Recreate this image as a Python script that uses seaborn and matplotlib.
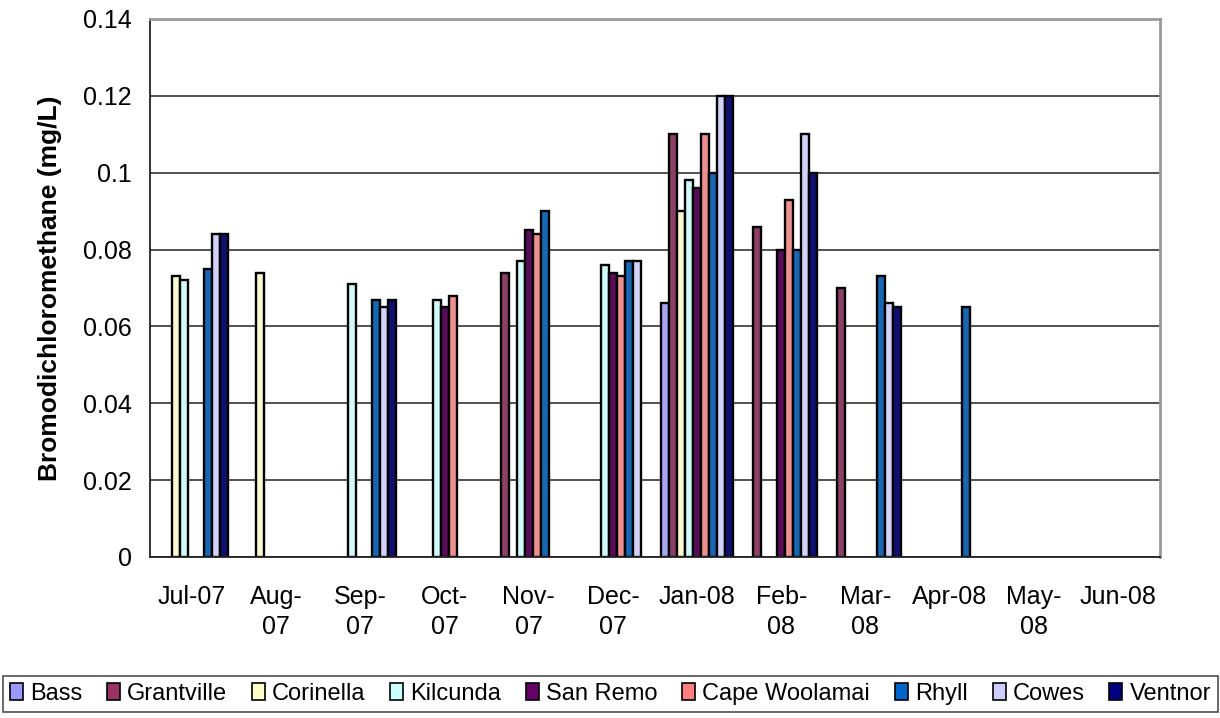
"""Bromodichloromethane levels by town, Jul-07 to Jun-08, as grouped bars."""

import matplotlib
matplotlib.use("Agg")
import matplotlib.pyplot as plt
from matplotlib import font_manager
from matplotlib.patches import Patch
from matplotlib.ticker import FixedLocator, FuncFormatter, MultipleLocator
import numpy as np
import pandas as pd
import seaborn as sns

nan = np.nan

months = ["Jul-07", "Aug-07", "Sep-07", "Oct-07", "Nov-07", "Dec-07",
          "Jan-08", "Feb-08", "Mar-08", "Apr-08", "May-08", "Jun-08"]
month_labels = ["Jul-07", "Aug-\n07", "Sep-\n07", "Oct-\n07", "Nov-\n07", "Dec-\n07",
                "Jan-08", "Feb-\n08", "Mar-\n08", "Apr-08", "May-\n08", "Jun-08"]
towns = ["Bass", "Grantville", "Corinella", "Kilcunda", "San Remo",
         "Cape Woolamai", "Rhyll", "Cowes", "Ventnor"]

bass = [nan, nan, nan, nan, nan, nan, 0.066, nan, nan, nan, nan, nan]
grantville = [nan, nan, nan, nan, 0.074, nan, 0.110, 0.086, 0.070, nan, nan, nan]
corinella = [0.073, 0.074, nan, nan, nan, nan, 0.090, nan, nan, nan, nan, nan]
kilcunda = [0.072, nan, 0.071, 0.067, 0.077, 0.076, 0.098, nan, nan, nan, nan, nan]
san_remo = [nan, nan, nan, 0.065, 0.085, 0.074, 0.096, 0.080, nan, nan, nan, nan]
cape_woolamai = [nan, nan, nan, 0.068, 0.084, 0.073, 0.110, 0.093, nan, nan, nan, nan]
rhyll = [0.075, nan, 0.067, nan, 0.090, 0.077, 0.100, 0.080, 0.073, 0.065, nan, nan]
cowes = [0.084, nan, 0.065, nan, nan, 0.077, 0.120, 0.110, 0.066, nan, nan, nan]
ventnor = [0.084, nan, 0.067, nan, nan, nan, 0.120, 0.100, 0.065, nan, nan, nan]

colors = ["#9999FF", "#993366", "#FFFFCC", "#CCFFFF", "#660066",
          "#FF8080", "#0066CC", "#CCCCFF", "#000080"]

series = [bass, grantville, corinella, kilcunda, san_remo,
          cape_woolamai, rhyll, cowes, ventnor]
df = pd.DataFrame({
    "month": np.tile(months, len(towns)),
    "town": np.repeat(towns, len(months)),
    "value": np.concatenate(series),
})

sns.set_theme(style="white")
plt.rcParams["font.family"] = ["Liberation Sans", "DejaVu Sans"]
plt.rcParams["text.color"] = "black"
plt.rcParams["xtick.color"] = "black"
plt.rcParams["ytick.color"] = "black"
plt.rcParams["axes.labelcolor"] = "black"
installed = {f.name for f in font_manager.fontManager.ttflist}
if "Liberation Sans Narrow" in installed:
    legend_prop = {"family": "Liberation Sans Narrow", "size": 19}
else:
    legend_prop = {"family": "Liberation Sans", "size": 17}

fig = plt.figure(figsize=(12.2, 7.18), dpi=100)
ax = fig.add_axes([150 / 1220, 1 - 557 / 718, 1010 / 1220, 538 / 718])

sns.barplot(data=df, x="month", y="value", hue="town", order=months,
            hue_order=towns, palette=colors, width=0.857, errorbar=None,
            edgecolor="black", linewidth=1.7, legend=False, ax=ax)

ax.set_ylim(0, 0.14)
ax.set_xlim(-0.5, len(months) - 0.5)
ax.yaxis.set_major_locator(MultipleLocator(0.02))
ax.yaxis.set_major_formatter(FuncFormatter(lambda v, _: f"{round(v, 2):g}"))
ax.grid(axis="y", color="#222222", linewidth=1.1)
ax.set_axisbelow(True)

ax.set_xticks(range(len(months)))
ax.set_xticklabels(month_labels, fontsize=18, linespacing=1.35)
ax.xaxis.set_minor_locator(FixedLocator(np.arange(-0.5, len(months), 1.0)))
ax.tick_params(axis="x", which="major", length=0, pad=20)
ax.tick_params(axis="x", which="minor", length=7, width=1.2, color="#555555", direction="out")
ax.tick_params(axis="y", length=7, width=1.2, color="#222222", direction="out", labelsize=18, pad=6)

for side in ["left", "bottom"]:
    ax.spines[side].set_color("#222222")
    ax.spines[side].set_linewidth(1.3)
for side in ["top", "right"]:
    ax.spines[side].set_visible(True)
    ax.spines[side].set_color("#999999")
    ax.spines[side].set_linewidth(2)

ax.set_xlabel("")
ax.set_ylabel("Bromodichloromethane (mg/L)", fontsize=19, fontweight="bold")
ax.yaxis.set_label_coords(-88 / 1010, 0.5)

handles = [Patch(facecolor=c, edgecolor="black", linewidth=1.2) for c in colors]
leg = fig.legend(handles, towns, loc="lower left", ncol=len(towns),
                 bbox_to_anchor=(3 / 1220, 6 / 718, 1215 / 1220, 38 / 718),
                 mode="expand", frameon=True, fancybox=False, edgecolor="#222222",
                 prop=legend_prop,
                 handlelength=0.55, handleheight=0.7, handletextpad=0.3,
                 columnspacing=0.5, borderpad=0.3, borderaxespad=0)
leg.get_frame().set_linewidth(1.2)

fig.savefig("out.png", dpi=100)
